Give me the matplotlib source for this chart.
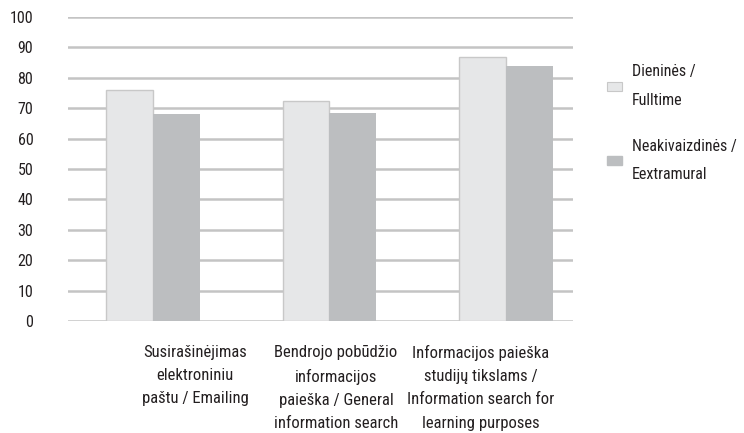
import matplotlib
matplotlib.use("Agg")
import matplotlib.pyplot as plt
from matplotlib.patches import Patch
import numpy as np

plt.rcParams['font.family'] = ['Roboto Condensed', 'Liberation Sans', 'DejaVu Sans']

categories = ["Susirašinėjimas\nelektroniniu\npaštu / Emailing",
              "Bendrojo pobūdžio\ninformacijos\npaieška / General\ninformation search",
              "Informacijos paieška\nstudijų tikslams /\nInformation search for\nlearning purposes"]
fulltime = [76, 72.5, 87]
extramural = [68, 68.5, 84]
series_labels = ["Dieninės /\nFulltime", "Neakivaizdinės /\nEextramural"]
yticks = list(range(0, 101, 10))

light = "#e6e7e8"
dark = "#bcbec0"
grid = "#c4c4c4"
text_color = "#231f20"

fig = plt.figure(figsize=(7.44, 4.33), dpi=100)
ax = fig.add_axes([68/744, 1-321/433, 505/744, 304/433])

x = np.arange(len(categories))
w = 0.265
ax.bar(x - w/2, fulltime, w, color=light, edgecolor="#c8c8c8", linewidth=1.0, zorder=3)
ax.bar(x + w/2, extramural, w, color=dark, edgecolor=dark, linewidth=0, zorder=3)

ax.set_ylim(0, 100)
ax.set_xlim(-0.48, 2.38)
ax.set_yticks(yticks)
ax.set_yticklabels([str(t) for t in yticks], fontsize=11.5, color=text_color)
ax.tick_params(axis='y', length=0, pad=25)
ax.set_xticks([])
for t in yticks:
    ax.axhline(t, color=grid, linewidth=1.8, zorder=1)
for s in ax.spines.values():
    s.set_visible(False)

label_pos = [0.2515, 0.5307, 0.8178]
for pos, lab in zip(label_pos, categories):
    ax.text(pos, -0.079, lab, transform=ax.transAxes, ha='center', va='top',
            fontsize=12, linespacing=1.68, color=text_color)

handles = [Patch(facecolor=light, edgecolor="#c8c8c8", linewidth=0.8),
           Patch(facecolor=dark, edgecolor=dark)]
leg = fig.legend(handles, series_labels, loc='upper left', bbox_to_anchor=(593/744, 1-50/433),
                 frameon=False, fontsize=11.5, handlelength=0.9, handleheight=0.5,
                 handletextpad=0.62, labelspacing=1.9, borderpad=0.4)
for t in leg.get_texts():
    t.set_linespacing(2.15)
    t.set_color(text_color)

fig.savefig("out.png", dpi=100)
